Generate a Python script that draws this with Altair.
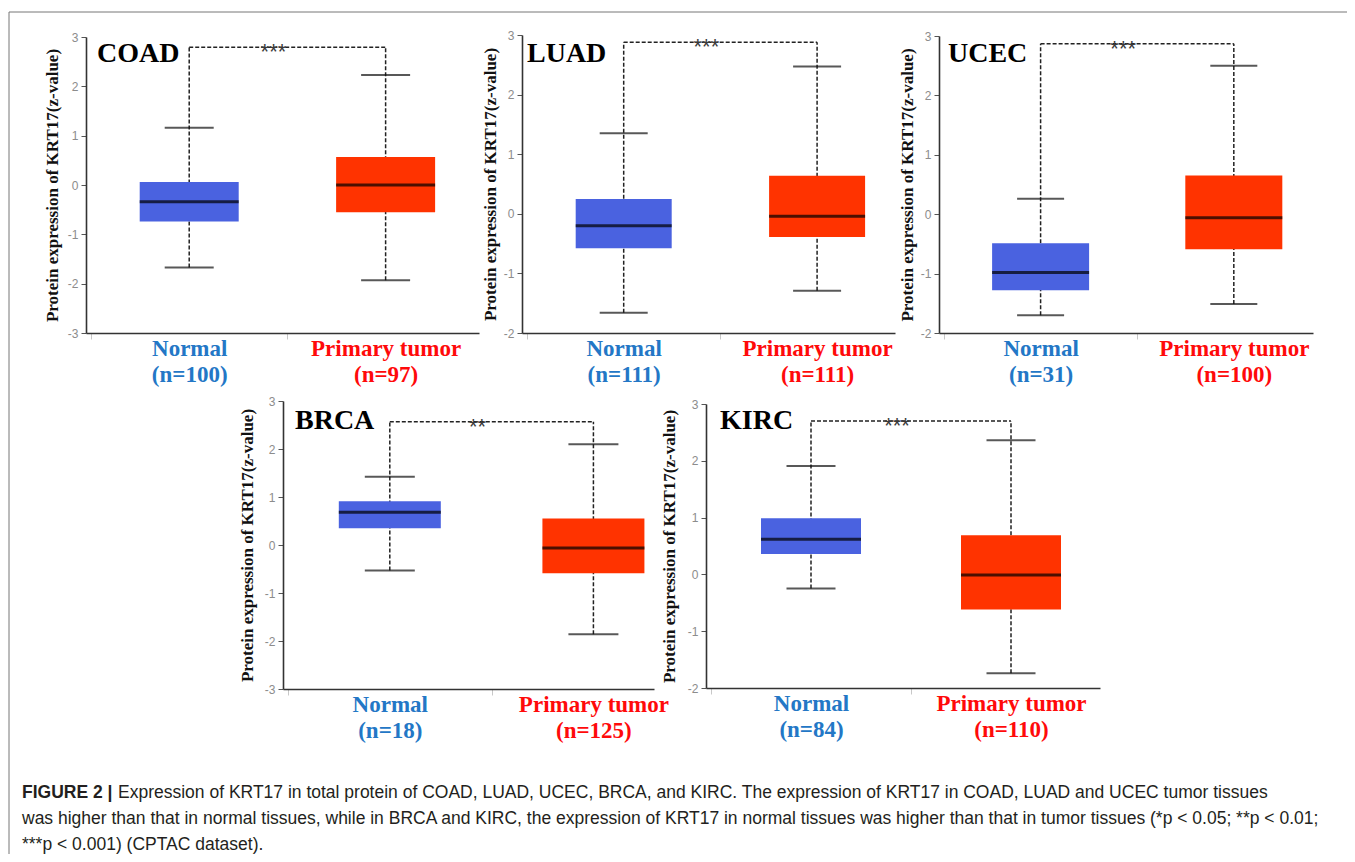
import altair as alt
import pandas as pd

# ---------------- data ----------------
panels = ["COAD", "LUAD", "UCEC", "BRCA", "KIRC"]
groups = ["Normal", "Primary tumor"]
n_normal = [100, 111, 31, 18, 84]
n_tumor = [97, 111, 100, 125, 110]

lower_normal = [-1.67, -1.66, -1.70, -0.53, -0.25]
q1_normal = [-0.74, -0.58, -1.28, 0.35, 0.36]
median_normal = [-0.34, -0.20, -0.98, 0.68, 0.62]
q3_normal = [0.06, 0.25, -0.49, 0.91, 0.99]
upper_normal = [1.16, 1.35, 0.26, 1.42, 1.91]

lower_tumor = [-1.93, -1.29, -1.51, -1.86, -1.74]
q1_tumor = [-0.55, -0.39, -0.59, -0.59, -0.62]
median_tumor = [0.00, -0.04, -0.06, -0.06, -0.01]
q3_tumor = [0.57, 0.64, 0.65, 0.55, 0.69]
upper_tumor = [2.23, 2.47, 2.50, 2.10, 2.36]

bracket_y = [2.79, 2.88, 2.87, 2.57, 2.70]
significance = ["***", "***", "***", "**", "***"]
y_min = [-3, -2, -2, -3, -2]
y_max = [3, 3, 3, 3, 3]

y_title = "Protein expression of KRT17(z-value)"
caption_bold = "FIGURE 2 |"
caption_lines = [
    "Expression of KRT17 in total protein of COAD, LUAD, UCEC, BRCA, and KIRC. The expression of KRT17 in COAD, LUAD and UCEC tumor tissues",
    "was higher than that in normal tissues, while in BRCA and KIRC, the expression of KRT17 in normal tissues was higher than that in tumor tissues (*p < 0.05; **p < 0.01;",
    "***p < 0.001) (CPTAC dataset).",
]

# ---------------- layout / style ----------------
W, H = 1339, 846
M = 8  # page margin
BLUE = "#4A62E0"
RED = "#FF3300"
LBL_BLUE = "#2377C6"
LBL_RED = "#FF0A0A"

layout = {
    "COAD": dict(x0=86, x1=479, xmax=1.45, ytop=37, ybot=333, box=99, cap=49, tx=97, ty=62, tpad=6),
    "LUAD": dict(x0=522, x1=895, xmax=1.377, ytop=35, ybot=333, box=96, cap=48, tx=527, ty=62, tpad=4),
    "UCEC": dict(x0=939, x1=1313, xmax=1.384, ytop=36, ybot=333, box=97, cap=47, tx=948, ty=62, tpad=4),
    "BRCA": dict(x0=283, x1=654, xmax=1.273, ytop=401, ybot=689, box=102, cap=50, tx=295, ty=429, tpad=8),
    "KIRC": dict(x0=706, x1=1100, xmax=1.42, ytop=404, ybot=688, box=100, cap=49, tx=720, ty=429, tpad=9),
}


def make_panel(i):
    name = panels[i]
    L = layout[name]
    df = pd.DataFrame({
        "group": groups,
        "pos": [0, 1],
        "lower": [lower_normal[i], lower_tumor[i]],
        "q1": [q1_normal[i], q1_tumor[i]],
        "median": [median_normal[i], median_tumor[i]],
        "q3": [q3_normal[i], q3_tumor[i]],
        "upper": [upper_normal[i], upper_tumor[i]],
        "bracket": [bracket_y[i], bracket_y[i]],
    })
    dfb = pd.DataFrame({"x0": [0], "x1": [1], "mid": [0.5], "y": [bracket_y[i]], "stars": [significance[i]]})
    dft = pd.DataFrame({"name": [name]})

    xs = alt.Scale(domain=[-0.5, L["xmax"]], range=[L["x0"] - M, L["x1"] - M], nice=False, zero=False)
    ys = alt.Scale(domain=[y_min[i], y_max[i]], range=[L["ybot"] - M, L["ytop"] - M], nice=False, zero=False)

    label_expr = (
        f"datum.value == 0 ? ['Normal', '(n={n_normal[i]})'] : "
        f"datum.value == 1 ? ['Primary tumor', '(n={n_tumor[i]})'] : ''"
    )
    xaxis = alt.Axis(
        orient="bottom", offset=(L["ybot"] - M) - H, values=[-0.5, 0, 0.5, 1],
        labelExpr=label_expr,
        labelColor=alt.ExprRef(expr=f"datum.value == 0 ? '{LBL_BLUE}' : '{LBL_RED}'"),
        tickColor=alt.ExprRef(expr="(datum.value == 0 || datum.value == 1) ? 'rgba(0,0,0,0)' : '#c8c8c8'"),
        tickSize=6, tickWidth=1, domainColor="#333333", domainWidth=1.6,
        labelFont="Liberation Serif", labelFontWeight="bold", labelFontSize=23,
        labelLineHeight=26, labelBaseline="alphabetic", labelPadding=16,
        labelOverlap=False, labelBound=False, labelFlush=False, grid=False, title=None,
    )
    yaxis = alt.Axis(
        orient="left", offset=-(L["x0"] - M), values=list(range(y_min[i], y_max[i] + 1)),
        labelExpr="'' + datum.value",
        labelFont="Liberation Sans", labelFontSize=12, labelColor="#8c8c8c", labelPadding=3,
        tickColor="#555555", tickSize=5, domainColor="#333333", domainWidth=1.6, grid=False,
        title=y_title, titleFont="Liberation Serif", titleFontWeight="bold", titleFontSize=17,
        titleColor="#111111", titlePadding=L["tpad"],
    )

    def X(f):
        return alt.X(f, type="quantitative", scale=xs, axis=xaxis)

    def Y(f):
        return alt.Y(f, type="quantitative", scale=ys, axis=yaxis)

    base = alt.Chart(df)
    legs = base.mark_rule(strokeDash=[4, 2], strokeWidth=1.5, color="#222222").encode(
        x=X("pos"), y=Y("lower"), y2="bracket")
    bracket = alt.Chart(dfb).mark_rule(strokeDash=[4, 2], strokeWidth=1.5, color="#222222").encode(
        x=X("x0"), x2="x1", y=Y("y"))
    boxes = base.mark_bar(size=L["box"]).encode(
        x=X("pos"), y=Y("q1"), y2="q3",
        color=alt.Color("group:N", scale=alt.Scale(domain=groups, range=[BLUE, RED]), legend=None))
    medians = base.mark_tick(orient="horizontal", size=L["box"], thickness=3, color="#000000").encode(
        x=X("pos"), y=Y("median"))
    cap_hi = base.mark_tick(orient="horizontal", size=L["cap"], thickness=2, color="#111111").encode(
        x=X("pos"), y=Y("upper"))
    cap_lo = base.mark_tick(orient="horizontal", size=L["cap"], thickness=2, color="#111111").encode(
        x=X("pos"), y=Y("lower"))
    stars = alt.Chart(dfb).mark_text(
        font="Liberation Sans", fontSize=22, color="#3a3a3a",
        dx=-14, dy=12, baseline="alphabetic", align="center").encode(
        x=X("mid"), y=Y("y"), text="stars:N")
    title = alt.Chart(dft).mark_text(
        font="Liberation Serif", fontSize=28, fontWeight="bold", color="#000000",
        align="left", baseline="alphabetic").encode(
        x=alt.value(L["tx"] - M), y=alt.value(L["ty"] - M), text="name:N")
    return alt.layer(legs, bracket, boxes, medians, cap_hi, cap_lo, stars, title)


one = pd.DataFrame({"k": [0]})
border = alt.Chart(one).mark_rect(filled=False, stroke="#777777", strokeWidth=1).encode(
    x=alt.value(1), x2=alt.value(1345), y=alt.value(4), y2=alt.value(900))

CAP_SIZE = 17.5
cap_df_bold = pd.DataFrame({"t": [caption_bold]})
cap_bold = alt.Chart(cap_df_bold).mark_text(
    font="Liberation Sans", fontSize=CAP_SIZE, fontWeight="bold", color="#231F20",
    align="left", baseline="alphabetic").encode(
    x=alt.value(14), y=alt.value(790), text="t:N")

cap_layers = []
cap_x = [110, 14, 14]
cap_y = [790, 816, 842]
for k, line in enumerate(caption_lines):
    cap_layers.append(
        alt.Chart(pd.DataFrame({"t": [line]})).mark_text(
            font="Liberation Sans", fontSize=CAP_SIZE, color="#231F20",
            align="left", baseline="alphabetic").encode(
            x=alt.value(cap_x[k]), y=alt.value(cap_y[k]), text="t:N"))

chart = alt.layer(
    border, *[make_panel(i) for i in range(len(panels))], cap_bold, *cap_layers
).resolve_scale(x="independent", y="independent").resolve_axis(
    x="independent", y="independent"
).properties(
    width=W, height=H, autosize=alt.AutoSizeParams(type="none"), padding=0,
    background="white"
).configure_view(stroke=None)

chart.save("out.html", embed_options={"renderer": "svg", "actions": False})
